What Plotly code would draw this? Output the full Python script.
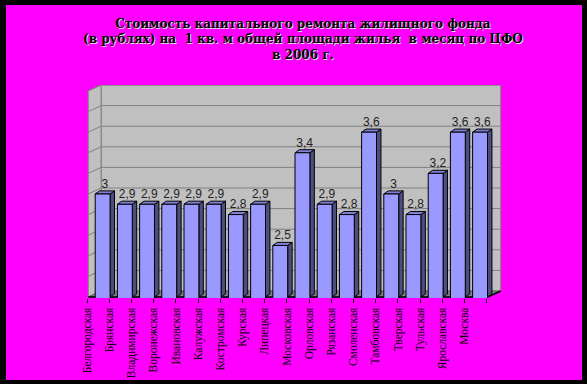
import plotly.graph_objects as go

categories = ["Белгородская", "Брянская", "Владимирская", "Воронежская", "Ивановская",
              "Калужская", "Костромская", "Курская", "Липецкая", "Московская",
              "Орловская", "Рязанская", "Смоленская", "Тамбовская", "Тверская",
              "Тульская", "Ярославская", "Москва"]
values = [3, 2.9, 2.9, 2.9, 2.9, 2.9, 2.8, 2.9, 2.5, 3.4, 2.9, 2.8, 3.6, 3, 2.8, 3.2, 3.6, 3.6]
labels = [f"{v:g}".replace(".", ",") for v in values]
grid_vals = [2.2, 2.4, 2.6, 2.8, 3.0, 3.2, 3.4, 3.6, 3.8, 4.0]

n = len(categories)
idx = list(range(n))
YMIN, YMAX = 2.0, 4.0
DX, DY = 0.58, 0.058      # depth of the chart box
BW, BOFF = 0.67, 0.15     # bar width / shift
SDX, SDY = 0.2, 0.03      # depth of each bar

shapes = []
W, H = 587, 384
L, R, T, B = 86, 85, 85, 86
pw, ph = W - L - R, H - T - B
def px2paper(x, y):
    return (x - L) / pw, (H - B - y) / ph
x0, y1 = px2paper(6, 5)
x1, y0 = px2paper(582, 380)
shapes.append(dict(type="rect", xref="paper", yref="paper", x0=x0, x1=x1, y0=y0, y1=y1,
                   fillcolor="#FF00FF", line=dict(width=0), layer="below"))

# back wall
shapes.append(dict(type="rect", xref="x", yref="y", x0=-0.5 + DX, x1=n - 0.5 + DX,
                   y0=YMIN + DY, y1=YMAX + DY, fillcolor="#C0C0C0",
                   line=dict(color="#808080", width=1), layer="below"))
# left wall
shapes.append(dict(type="path", xref="x", yref="y",
                   path=f"M {-0.5},{YMIN} L {-0.5+DX},{YMIN+DY} L {-0.5+DX},{YMAX+DY} L {-0.5},{YMAX} Z",
                   fillcolor="#C0C0C0", line=dict(color="#808080", width=1), layer="below"))
for g in grid_vals:
    shapes.append(dict(type="line", xref="x", yref="y", x0=-0.5 + DX, x1=n - 0.5 + DX,
                       y0=g + DY, y1=g + DY, line=dict(color="#808080", width=1), layer="below"))
    shapes.append(dict(type="line", xref="x", yref="y", x0=-0.5, x1=-0.5 + DX,
                       y0=g, y1=g + DY, line=dict(color="#808080", width=1), layer="below"))
# floor
shapes.append(dict(type="path", xref="x", yref="y",
                   path=f"M {-0.5},{YMIN} L {n-0.5},{YMIN} L {n-0.5+DX},{YMIN+DY} L {-0.5+DX},{YMIN+DY} Z",
                   fillcolor="#808080", line=dict(color="#606060", width=1), layer="below"))
# front floor edge
shapes.append(dict(type="path", xref="x", yref="y",
                   path=f"M {-0.5},{YMIN} L {n-0.5},{YMIN} L {n-0.5+DX},{YMIN+DY}",
                   line=dict(color="black", width=1.5), layer="below"))

# bar side & top faces
for i, v in zip(idx, values):
    xl = i + BOFF - BW / 2
    xr = i + BOFF + BW / 2
    shapes.append(dict(type="path", xref="x", yref="y",
                       path=f"M {xr},{YMIN} L {xr+SDX},{YMIN+SDY} L {xr+SDX},{v+SDY} L {xr},{v} Z",
                       fillcolor="#4D4D80", line=dict(color="black", width=1), layer="below"))
    shapes.append(dict(type="path", xref="x", yref="y",
                       path=f"M {xl},{v} L {xr},{v} L {xr+SDX},{v+SDY} L {xl+SDX},{v+SDY} Z",
                       fillcolor="#8080D8", line=dict(color="black", width=1), layer="below"))

fig = go.Figure()
fig.add_trace(go.Bar(x=idx, y=values, width=BW, offset=BOFF - BW / 2,
                     marker=dict(color="#9999FF", line=dict(color="black", width=1)),
                     hoverinfo="skip"))
fig.add_trace(go.Scatter(x=[i + BOFF + SDX / 2 for i in idx], y=[v + SDY for v in values],
                         mode="text", text=labels, textposition="top center",
                         textfont=dict(family="Liberation Sans", size=12, color="#222222"),
                         cliponaxis=False, hoverinfo="skip"))

tickvals = [i - 0.55 for i in idx] + [n - 0.55]
ticktext = categories + [""]

fig.update_layout(
    width=W, height=H,
    margin=dict(l=L, r=R, t=T, b=B, pad=0, autoexpand=False),
    paper_bgcolor="black",
    plot_bgcolor="rgba(0,0,0,0)",
    showlegend=False,
    shapes=shapes,
    title=dict(
        text="Стоимость капитального ремонта жилищного фонда<br>(в рублях) на  1 кв. м общей площади жилья  в месяц по ЦФО<br>в 2006 г.",
        x=0.516, xanchor="center", y=0.928, yanchor="top",
        font=dict(family="DejaVu Serif", size=12, color="black", weight="bold",
                  shadow="1px 1px 0px #E0E0E0"),
        automargin=False,
    ),
    xaxis=dict(range=[-0.6, -0.6 + pw / 22.2], tickmode="array", tickvals=tickvals, ticktext=ticktext,
               tickangle=-90, ticks="outside", ticklen=4, tickcolor="black", tickwidth=1,
               tickfont=dict(family="Liberation Serif", size=11.5, color="black"),
               showgrid=False, zeroline=False, showline=False, fixedrange=True, automargin=False),
    yaxis=dict(range=[1.99, 4.058], showticklabels=False, showgrid=False, zeroline=False,
               showline=False, ticks="", fixedrange=True, automargin=False),
)

fig.write_html("out.html", config={"displayModeBar": False},
               post_script="document.body.style.margin='0';document.body.style.overflow='hidden';")
